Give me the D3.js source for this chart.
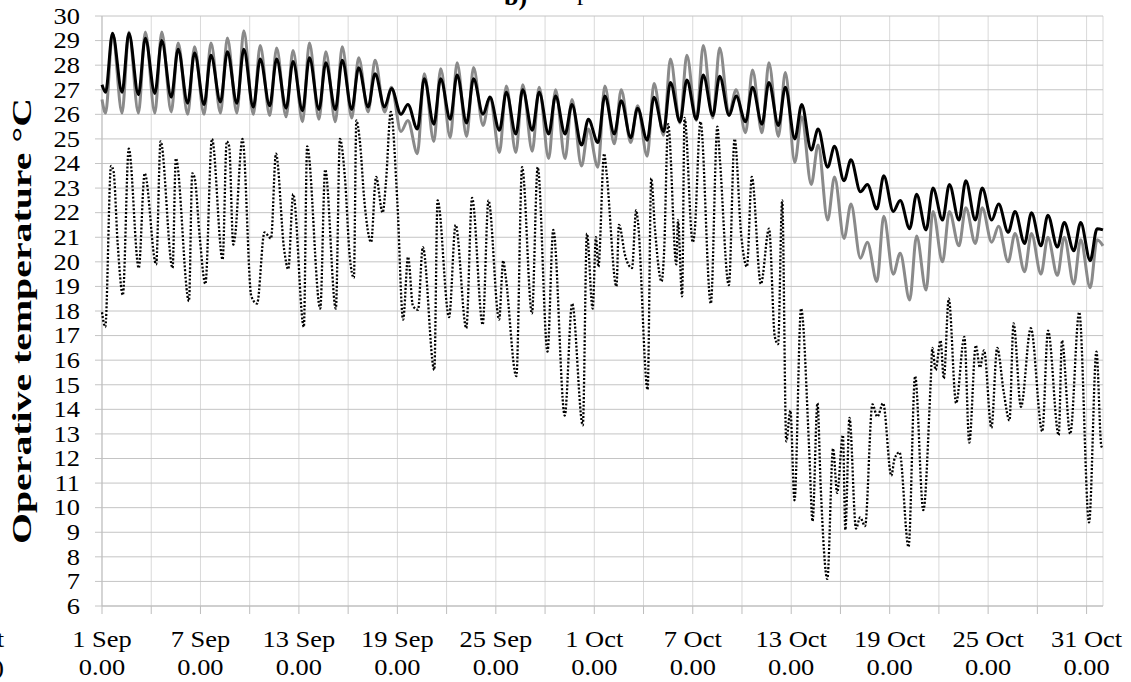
<!DOCTYPE html>
<html>
<head>
<meta charset="utf-8">
<script src="https://cdn.jsdelivr.net/npm/d3@7/dist/d3.min.js"></script>
<style>
  html, body { margin: 0; padding: 0; background: #fff; }
  svg { display: block; }
  text { font-family: "Liberation Serif", "Times New Roman", serif; fill: #000; }
</style>
</head>
<body>
<svg id="chart" width="1131" height="682"></svg>
<script>
// ---- Data ----
// Day index 0 = 1 Sep 00:00; each indoor series has one daily trough (early morning) and one daily peak (afternoon)
const yTicks = d3.range(6, 31);
const xLabelDays = ["1 Sep", "7 Sep", "13 Sep", "19 Sep", "25 Sep", "1 Oct", "7 Oct", "13 Oct", "19 Oct", "25 Oct", "31 Oct"];
const xSubLabel = "0.00";

const blackStart = 27.2, blackEnd = 21.3;
const blackMax = [29.3,29.3,29.1,29.0,28.65,28.5,28.4,28.55,28.65,28.25,
                  28.25,28.15,28.3,28.1,28.2,27.9,27.65,27.05,26.4,27.45,
                  27.45,27.6,27.45,26.7,26.9,27.0,26.9,26.75,26.4,25.8,
                  26.75,26.55,26.25,26.7,27.3,27.4,27.6,27.55,26.75,27.1,
                  27.3,27.1,26.4,25.4,24.7,24.15,23.15,23.5,22.5,22.75,
                  23.0,23.15,23.3,23.0,22.35,22.05,22.0,21.9,21.6,21.6,
                  21.35];
const blackMin = [26.9,26.9,26.8,26.85,26.7,26.45,26.4,26.5,26.45,26.3,
                  26.35,26.25,26.15,26.2,26.2,26.2,26.3,26.3,26.0,25.4,
                  25.6,25.8,25.65,26.0,25.35,25.2,25.35,25.2,25.2,24.75,
                  24.85,25.2,25.05,24.95,25.3,25.7,25.8,25.95,25.95,25.7,
                  25.6,25.55,25.0,24.55,23.85,23.3,22.85,22.15,22.05,21.35,
                  21.3,21.7,21.7,21.7,21.7,21.2,20.75,20.65,20.6,20.45,
                  20.05];

const grayStart = 26.6, grayEnd = 20.65;
const grayMax = [29.3,29.35,29.35,29.35,28.9,28.75,28.9,29.1,29.4,28.8,
                 28.7,28.6,28.9,28.55,28.75,28.3,28.2,27.1,25.75,27.65,
                 27.85,28.1,27.9,26.7,27.15,27.2,27.1,27.0,26.6,25.4,
                 27.15,27.0,26.35,27.25,28.25,28.4,28.8,28.7,27.0,27.8,
                 28.1,27.7,25.9,24.75,23.45,22.35,20.8,21.85,20.35,21.05,
                 22.05,22.05,22.2,22.2,21.45,21.15,21.15,21.0,21.0,20.9,
                 20.9];
const grayMin = [26.05,26.05,26.05,26.05,26.1,26.0,26.0,26.05,26.05,26.0,
                 25.95,25.9,25.7,25.8,25.7,25.85,26.1,26.1,25.3,24.4,
                 24.9,25.05,25.1,25.55,24.45,24.45,24.5,24.2,24.2,23.9,
                 23.85,24.8,24.85,24.3,25.15,25.65,25.75,25.85,26.05,25.25,
                 25.25,25.1,24.05,23.15,21.7,20.95,20.15,19.2,19.5,18.45,
                 18.85,20.0,20.65,20.75,20.8,20.0,19.6,19.5,19.45,19.1,
                 18.95];

// Outdoor (dotted): turning points [days since 1 Sep 00:00, °C]
const outdoorPoints = [
  [0,17.95],[0.2,17.35],[0.55,23.9],[0.7,23.7],[0.95,20.8],[1.27,18.65],[1.63,24.6],[2.24,19.75],[2.6,23.6],
  [3.3,19.9],[3.57,24.9],[4.3,19.75],[4.5,24.2],[5.3,18.4],[5.5,23.6],[5.65,23.4],[5.95,21.05],[6.3,19.1],
  [6.7,25.0],[7.35,20.1],[7.6,24.9],[7.75,24.7],[8.0,20.7],[8.1,21.0],[8.56,25.0],[9.1,18.6],[9.45,18.3],
  [9.9,21.2],[10.3,20.95],[10.6,24.4],[11.1,20.5],[11.35,19.7],[11.65,22.75],[12.3,17.35],[12.5,24.7],
  [13.3,18.1],[13.6,23.75],[14.25,18.1],[14.5,25.0],[14.8,23.45],[15.1,20.2],[15.35,19.35],[15.5,25.75],
  [15.7,25.0],[16.0,22.4],[16.4,20.8],[16.7,23.45],[17.1,22.0],[17.3,23.2],[17.6,26.1],[18.0,22.4],
  [18.35,17.65],[18.65,20.2],[18.95,18.2],[19.26,18.05],[19.55,20.6],[20.25,15.6],[20.45,22.5],[21.15,17.75],
  [21.55,21.5],[22.2,17.3],[22.55,22.6],[23.2,17.45],[23.55,22.5],[24.2,17.65],[24.45,20.05],[24.6,19.4],
  [25.25,15.35],[25.6,23.85],[26.2,17.9],[26.55,23.85],[27.15,16.35],[27.5,21.3],[28.2,13.75],[28.65,18.3],
  [29.3,13.35],[29.55,21.15],[29.9,18.1],[30.1,21.0],[30.25,19.8],[30.6,24.4],[30.75,23.6],[31.35,19.0],
  [31.5,21.5],[31.9,20.2],[32.3,19.75],[32.55,22.1],[32.65,21.7],[33.25,14.8],[33.47,23.4],[33.7,21.3],
  [34.1,19.2],[34.25,20.35],[34.5,25.6],[35.0,19.9],[35.1,21.7],[35.35,18.6],[35.5,25.85],[36.0,20.8],
  [36.1,21.1],[36.47,25.7],[37.1,18.3],[37.5,25.5],[37.65,24.2],[38.2,19.05],[38.55,25.0],[38.95,21.1],
  [39.3,19.8],[39.6,23.45],[40.15,19.1],[40.65,21.35],[41.0,16.95],[41.2,16.65],[41.45,22.5],[41.7,12.7],
  [41.95,13.95],[42.2,10.3],[42.6,18.1],[43.1,12.3],[43.3,9.45],[43.6,14.25],[43.8,10.8],[44.2,7.1],
  [44.55,12.4],[44.8,10.6],[45.15,12.95],[45.3,9.1],[45.55,13.65],[45.95,9.15],[46.2,9.6],[46.5,9.25],
  [46.95,14.2],[47.25,13.7],[47.6,14.25],[48.1,11.3],[48.3,12.0],[48.6,12.25],[49.15,8.4],[49.55,15.35],
  [50.05,9.9],[50.5,15.1],[50.6,16.5],[50.8,15.6],[51.1,16.8],[51.3,15.25],[51.6,18.5],[52.05,14.25],
  [52.55,16.95],[52.85,12.65],[53.25,16.6],[53.5,15.7],[53.75,16.4],[54.2,13.25],[54.55,16.5],[54.95,14.7],
  [55.3,13.55],[55.55,17.5],[56.0,14.1],[56.6,17.3],[57.3,13.1],[57.65,17.2],[58.3,12.95],[58.5,16.8],
  [59.0,13.0],[59.55,17.95],[60.15,9.4],[60.6,16.35],[60.9,12.5],[61.0,12.4]
];

// ---- Layout ----
const W = 1131, H = 682;
const m = { left: 102, right: 1103, top: 16, bottom: 606 };
const DAY = 86400000;
const t0 = Date.UTC(2000, 8, 1), t1 = Date.UTC(2000, 10, 1);
const troughFrac = 0.22, peakFrac = 0.64;
const HSTRETCH = 1.15;

const svg = d3.select("#chart");
svg.append("rect").attr("width", W).attr("height", H).attr("fill", "#fff");

const x = d3.scaleUtc().domain([new Date(t0), new Date(t1)]).range([m.left, m.right]);
const y = d3.scaleLinear().domain([6, 30]).range([m.bottom, m.top]);
const dayDate = d => new Date(t0 + d * DAY);

function dailySeries(start, mins, maxs, end) {
  const pts = [[0, start]];
  mins.forEach((v, i) => {
    pts.push([i + troughFrac, v]);
    pts.push([i + peakFrac, maxs[i]]);
  });
  pts.push([61, end]);
  return pts;
}

// Grid
const xTickDates = d3.utcDay.range(new Date(t0), new Date(t1 - 1), 3);
const g = svg.append("g");
g.selectAll(".vg").data(xTickDates.concat([new Date(t1)])).enter().append("line")
  .attr("x1", d => x(d)).attr("x2", d => x(d))
  .attr("y1", m.top).attr("y2", m.bottom)
  .attr("stroke", "#d9d9d9").attr("stroke-width", 1);
g.selectAll(".hg").data(yTicks).enter().append("line")
  .attr("x1", m.left - 7).attr("x2", m.right)
  .attr("y1", d => y(d)).attr("y2", d => y(d))
  .attr("stroke", "#c4c4c4").attr("stroke-width", 1);
// axis lines
g.append("line").attr("x1", m.left).attr("x2", m.left).attr("y1", m.top).attr("y2", m.bottom)
  .attr("stroke", "#bdbdbd");
g.append("line").attr("x1", m.left).attr("x2", m.right).attr("y1", m.bottom).attr("y2", m.bottom)
  .attr("stroke", "#bdbdbd");
g.selectAll(".xt").data(xTickDates).enter().append("line")
  .attr("x1", d => x(d)).attr("x2", d => x(d))
  .attr("y1", m.bottom).attr("y2", m.bottom + 8)
  .attr("stroke", "#bdbdbd");

// Y tick labels
svg.append("g").selectAll("text").data(yTicks).enter().append("text")
  .attr("transform", d => `translate(80,${y(d)}) scale(${HSTRETCH},1)`)
  .attr("text-anchor", "end").attr("dy", "0.34em")
  .style("font-size", "23px")
  .text(d => d);

// X tick labels (every 6 days)
const labelDates = xTickDates.filter((d, i) => i % 2 === 0);
const xl = svg.append("g");
xl.selectAll(".l1").data(labelDates).enter().append("text")
  .attr("transform", d => `translate(${x(d)},647) scale(${HSTRETCH},1)`)
  .attr("text-anchor", "middle").style("font-size", "23px")
  .text((d, i) => xLabelDays[i]);
xl.selectAll(".l2").data(labelDates).enter().append("text")
  .attr("transform", d => `translate(${x(d)},675) scale(${HSTRETCH},1)`)
  .attr("text-anchor", "middle").style("font-size", "23px")
  .text(xSubLabel);

// texts cut off at the left edge and top (as in the reference)
svg.append("text").attr("transform", `translate(4,647) scale(${HSTRETCH},1)`)
  .attr("text-anchor", "end").style("font-size", "23px").text("Start");
svg.append("text").attr("transform", `translate(4,675) scale(${HSTRETCH},1)`)
  .attr("text-anchor", "end").style("font-size", "23px").text("(hh.mm)");
svg.append("text").attr("x", 504).attr("y", 5).style("font-size", "26px").style("font-weight", "bold").text("b)");
svg.append("text").attr("x", 533).attr("y", 0).style("font-size", "25px").text("Temperature");

// Y axis title
svg.append("text")
  .attr("transform", "translate(31,321) rotate(-90)")
  .attr("text-anchor", "middle")
  .attr("textLength", 446).attr("lengthAdjust", "spacingAndGlyphs")
  .style("font-size", "27px").style("font-weight", "bold")
  .text("Operative temperature °C");

// Lines
const line = d3.line().x(p => x(dayDate(p[0]))).y(p => y(p[1])).curve(d3.curveMonotoneX);
const plot = svg.append("g");
plot.append("path").datum(outdoorPoints).attr("d", line)
  .attr("fill", "none").attr("stroke", "#000").attr("stroke-width", 2.3)
  .attr("stroke-dasharray", "2,1.8");
plot.append("path").datum(dailySeries(grayStart, grayMin, grayMax, grayEnd)).attr("d", line)
  .attr("fill", "none").attr("stroke", "#8a8a8a").attr("stroke-width", 3)
  .attr("stroke-linejoin", "round");
plot.append("path").datum(dailySeries(blackStart, blackMin, blackMax, blackEnd)).attr("d", line)
  .attr("fill", "none").attr("stroke", "#000").attr("stroke-width", 3)
  .attr("stroke-linejoin", "round");
</script>
</body>
</html>
